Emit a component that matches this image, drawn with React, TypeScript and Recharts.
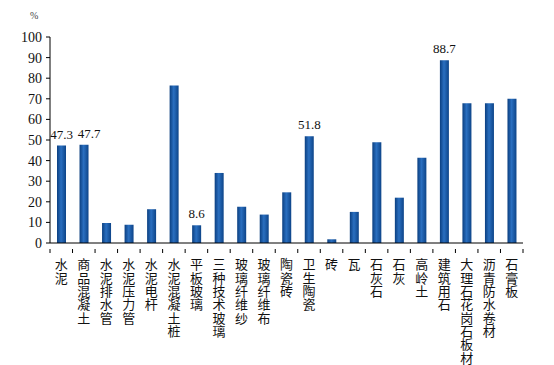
import { Bar, BarChart, LabelList, XAxis, YAxis } from "recharts";

const categories = [
  "水泥",
  "商品混凝土",
  "水泥排水管",
  "水泥压力管",
  "水泥电杆",
  "水泥混凝土桩",
  "平板玻璃",
  "三种技术玻璃",
  "玻璃纤维纱",
  "玻璃纤维布",
  "陶瓷砖",
  "卫生陶瓷",
  "砖",
  "瓦",
  "石灰石",
  "石灰",
  "高岭土",
  "建筑用石",
  "大理石花岗石板材",
  "沥青防水卷材",
  "石膏板",
];

const values = [
  47.3, 47.7, 9.7, 8.8, 16.4, 76.4, 8.6, 34.0, 17.6, 13.8, 24.6, 51.8, 1.8,
  15.1, 48.9, 22.0, 41.4, 88.7, 67.8, 67.8, 70.0,
];

const shownLabels = ["47.3", "47.7", "", "", "", "", "8.6", "", "", "", "", "51.8", "", "", "", "", "", "88.7", "", "", ""];

const yTicks = [0, 10, 20, 30, 40, 50, 60, 70, 80, 90, 100];

const data = categories.map((name, i) => ({
  name,
  value: values[i],
  label: shownLabels[i],
}));

const WIDTH = 554;
const HEIGHT = 365;
const Y_AXIS_W = 50;
const X_AXIS_H = 122;
const MARGIN = { top: 37, right: 31, bottom: 0, left: 0 };
const BAND = (WIDTH - Y_AXIS_W - MARGIN.right) / categories.length;

function CategoryTick(props: any) {
  const { x, y, payload, index } = props;
  const left = x - BAND / 2;
  return (
    <g>
      <line x1={left} y1={y} x2={left} y2={y + 4} stroke="#000" />
      {index === categories.length - 1 ? (
        <line x1={left + BAND} y1={y} x2={left + BAND} y2={y + 4} stroke="#000" />
      ) : null}
      <text
        x={x}
        y={y + 9}
        style={{ writingMode: "vertical-rl", letterSpacing: 0.3 }}
        fontSize={13}
        fill="#111"
        fontFamily="'Noto Sans CJK SC', sans-serif"
      >
        {payload.value}
      </text>
    </g>
  );
}

function ValueLabel(props: any) {
  const { x, y, width, value, index } = props;
  if (!value) return null;
  // nudge a label right when the bar before it is labelled too, so they don't collide
  const nudge = index > 0 && shownLabels[index - 1] ? 5 : 0;
  return (
    <text
      x={x + width / 2 + nudge}
      y={y - 7}
      textAnchor="middle"
      fontSize={13}
      fill="#111"
      fontFamily="'Liberation Serif', serif"
    >
      {value}
    </text>
  );
}

export default function App() {
  return (
    <div style={{ position: "absolute", left: 0, top: 0, width: WIDTH, height: HEIGHT, background: "#fff" }}>
      <BarChart width={WIDTH} height={HEIGHT} data={data} margin={MARGIN}>
        <defs>
          <linearGradient id="barFill" x1="0" y1="0" x2="1" y2="0">
            <stop offset="0%" stopColor="#0b3f80" />
            <stop offset="45%" stopColor="#2a6fc0" />
            <stop offset="100%" stopColor="#0d4488" />
          </linearGradient>
        </defs>
        <text x={30} y={19} fontSize={10} fill="#444" fontFamily="'Liberation Serif', serif">
          %
        </text>
        <XAxis
          dataKey="name"
          interval={0}
          height={X_AXIS_H}
          axisLine={{ stroke: "#000" }}
          tickLine={false}
          tick={<CategoryTick />}
          tickMargin={0}
        />
        <YAxis
          domain={[0, 100]}
          ticks={yTicks}
          interval={0}
          axisLine={{ stroke: "#000" }}
          tickLine={{ stroke: "#000" }}
          tickSize={4}
          tickMargin={4}
          width={Y_AXIS_W}
          tick={{ fill: "#111", fontSize: 14, fontFamily: "'Liberation Serif', serif" }}
        />
        <Bar dataKey="value" fill="url(#barFill)" barSize={9} isAnimationActive={false}>
          <LabelList dataKey="label" content={<ValueLabel />} />
        </Bar>
      </BarChart>
    </div>
  );
}
